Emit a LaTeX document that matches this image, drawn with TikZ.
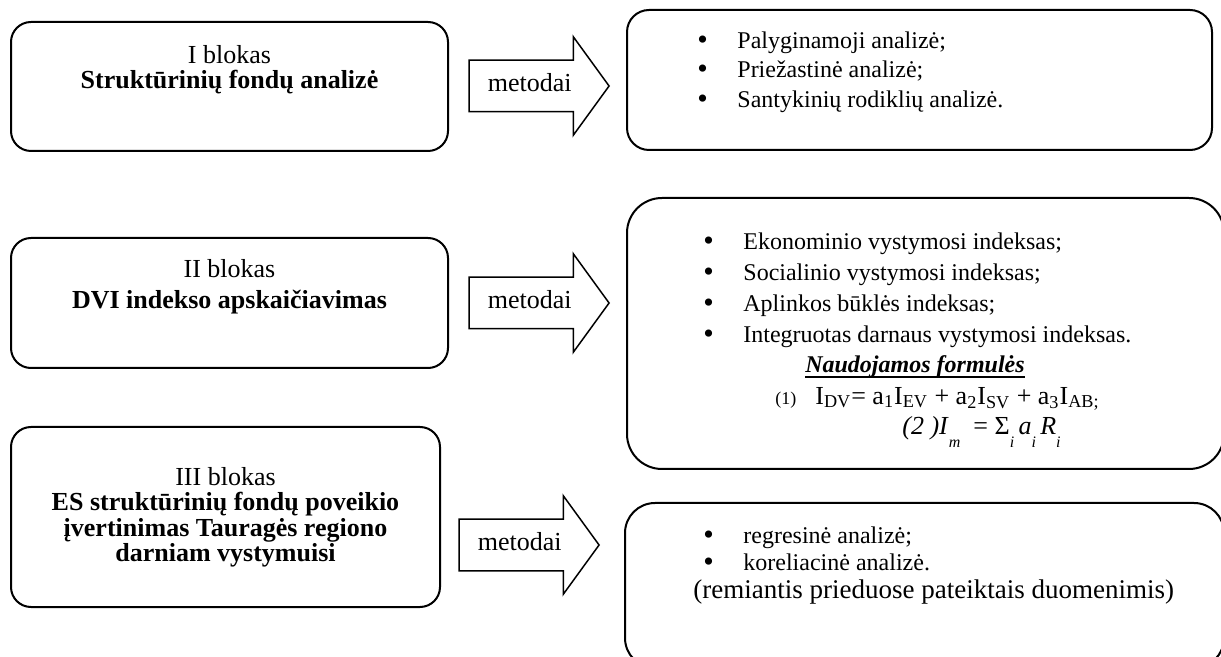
\documentclass[tikz,border=0pt]{standalone}
\usepackage{fontspec}
\setmainfont{Liberation Serif}
\usetikzlibrary{shapes.arrows}

\newcommand{\bul}[1][20pt]{\makebox[#1][l]{\raisebox{-0.6pt}{\fontsize{15}{15}\selectfont\textbullet}}}
\newcommand{\lowsub}[1]{\raisebox{-6.5pt}{\fontsize{8}{8}\selectfont\textit{#1}}}
\newcommand{\thickul}[1]{\setbox0\hbox{#1}\rlap{\rule[-3pt]{\wd0}{1.3pt}}\box0}

\tikzset{
  blok/.style={draw, line width=1pt, rounded corners=10pt, inner sep=0pt},
  bloktxt/.style={inner sep=0pt, align=center, font=\fontsize{13}{12.75}\selectfont},
  sarasas/.style={inner sep=0pt, align=left, anchor=north west, font=\fontsize{12}{15.5}\selectfont},
  metod/.style={draw, line width=0.75pt, single arrow, single arrow head extend=11.75pt,
    single arrow tip angle=108, inner xsep=9pt, inner ysep=6.5pt,
    text height=9pt, text depth=3pt, font=\fontsize{13}{13}\selectfont}
}

\begin{document}
\begin{tikzpicture}[x=0.5pt,y=-0.5pt]
\useasboundingbox (0,0) rectangle (1221,657);
%blokai
\node[blok, minimum width=218.5pt, minimum height=64.5pt] (blok1) at (229.5,86.5) {};
\node[blok, minimum width=218.5pt, minimum height=65pt] (blok2) at (229.5,303) {};
\node[blok, minimum width=214.5pt, minimum height=90pt] (blok3) at (225.5,517) {};
\node[bloktxt, anchor=north] (bt1) at (229.5,45) {I blokas\\\textbf{Struktūrinių fondų analizė}};
\node[bloktxt, anchor=north, font=\fontsize{13}{15.5}\selectfont] (bt2) at (229.5,259)
  {II blokas\\\textbf{DVI indekso apskaičiavimas}};
\node[bloktxt, anchor=north] (bt3) at (225.5,467) {III blokas\\\textbf{ES struktūrinių fondų poveikio}\\
  \textbf{įvertinimas Tauragės regiono}\\\textbf{darniam vystymuisi}};
%metodai
\node[metod, anchor=tip] (m1) at (610,86) {metodai};
\node[metod, anchor=tip] (m2) at (610,303) {metodai};
\node[metod, anchor=tip] (m3) at (600,545) {metodai};
%rezultatai
\node[blok, rounded corners=11pt, minimum width=292.5pt, minimum height=70pt] (rez1) at (919.5,80) {};
\node[blok, rounded corners=17.5pt, minimum width=298.5pt, minimum height=135.5pt] (rez2) at (925.5,333.5) {};
\node[blok, rounded corners=15pt, minimum width=299.5pt, minimum height=82.5pt] (rez3) at (924.5,585.5) {};
\node[sarasas, font=\fontsize{12}{14.75}\selectfont] (s1) at (697,31) {\bul Palyginamoji analizė;\\
  \bul Priežastinė analizė;\\\bul Santykinių rodiklių analizė.};
\node[sarasas] (s2) at (703,232) {\bul Ekonominio vystymosi indeksas;\\\bul Socialinio vystymosi indeksas;\\
  \bul Aplinkos būklės indeksas;\\\bul Integruotas darnaus vystymosi indeksas.};
\node[bloktxt, font=\fontsize{12}{12}\selectfont] (nf) at (915,367) {\thickul{\textbf{\textit{Naudojamos formulės}}}};
\node[inner sep=0pt, anchor=west, font=\fontsize{13}{13}\selectfont] (f1) at (775,399)
  {{\fontsize{9}{9}\selectfont (1)}\hspace{9.5pt}I\textsubscript{DV}= a\textsubscript{1}I\textsubscript{EV} + a\textsubscript{2}I\textsubscript{SV} + a\textsubscript{3}I\textsubscript{AB;}};
\node[inner sep=0pt, anchor=west, font=\fontsize{13}{13}\selectfont] (f2) at (902,432)
  {\textit{(2 )I}\lowsub{m}\ \ = Σ\lowsub{i}\,\textit{a}\lowsub{i}\,\textit{R}\lowsub{i}};
\node[sarasas, font=\fontsize{12}{13.75}\selectfont] (s3) at (703,526) {\bul regresinė analizė;\\\bul koreliacinė analizė.\\
  \hspace*{-5pt}{\fontsize{13.5}{13.75}\selectfont (remiantis prieduose pateiktais duomenimis)}};
\end{tikzpicture}
\end{document}
